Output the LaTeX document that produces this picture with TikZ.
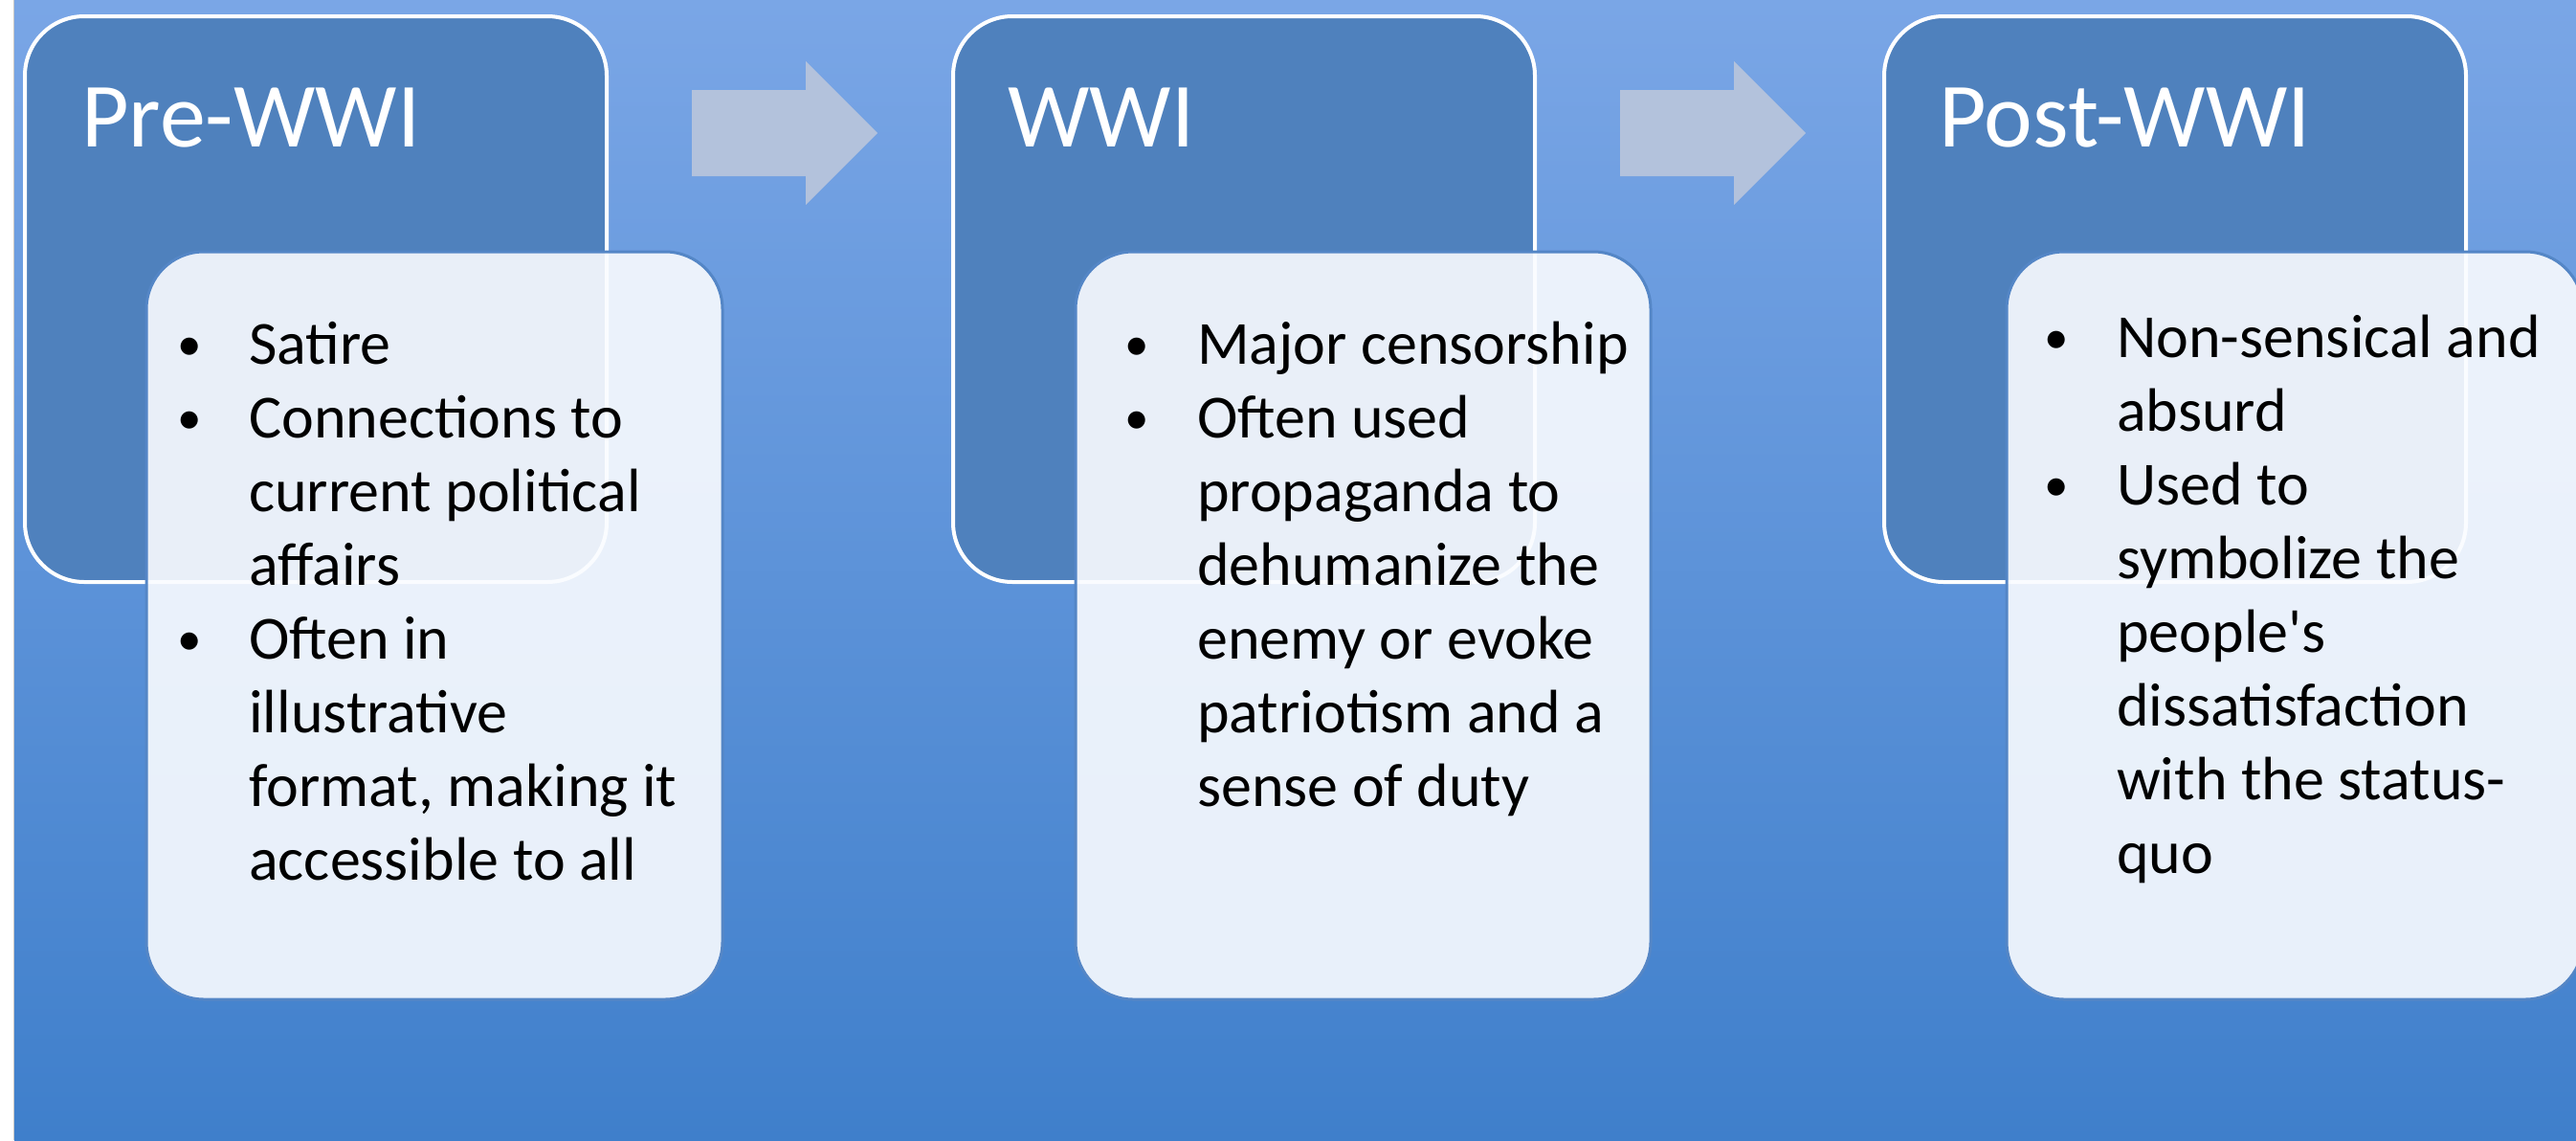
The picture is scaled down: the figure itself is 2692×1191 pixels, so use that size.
\documentclass[tikz,border=0pt]{standalone}
\usepackage{fontspec}
\newfontfamily\calib{Carlito}
\definecolor{bgtop}{RGB}{122,166,230}
\definecolor{bgbot}{RGB}{63,127,203}
\definecolor{titleblue}{RGB}{79,129,189}
\definecolor{edgeblue}{RGB}{84,134,198}
\definecolor{arrowgray}{RGB}{179,194,220}
\definecolor{stripgray}{RGB}{200,200,200}
\definecolor{paneltint}{RGB}{250,252,255}
\tikzset{
  titlebox/.style={draw=white, line width=4pt, fill=titleblue, rounded corners=62pt},
  textbox/.style={draw=edgeblue, line width=3pt, fill=paneltint, fill opacity=0.9, rounded corners=60pt},
  arrowshape/.style={fill=arrowgray, draw=none},
  titletext/.style={font=\calib\fontsize{96}{115}\selectfont, text=white, inner sep=0pt, anchor=base west},
  bodytext/.style={font=\calib\fontsize{64}{77}\selectfont, text=black, inner sep=0pt, anchor=base west},
  bullettext/.style={font=\calib\fontsize{51}{77}\selectfont, text=black, inner sep=0pt, anchor=base},
}
\begin{document}
\begin{tikzpicture}[x=1pt,y=-1pt]
\useasboundingbox (0,0) rectangle (2692,1191);
\clip (0,0) rectangle (2692,1191);
% background
\fill[white] (0,0) rectangle (15,1191);
\shade[top color=bgtop, bottom color=bgbot] (15,0) rectangle (2692,1191);
\draw[stripgray, line width=1pt] (14.5,0) -- (14.5,1191);
% title boxes
\draw[titlebox] (26,17) rectangle (634,608);
\draw[titlebox] (996,17) rectangle (1604,608);
\draw[titlebox] (1969,17) rectangle (2577,608);
% arrows
\fill[arrowshape] (723,94) -- (842,94) -- (842,64) -- (917,139) -- (842,214) -- (842,184) -- (723,184) -- cycle;
\fill[arrowshape] (1693,94) -- (1812,94) -- (1812,64) -- (1887,139) -- (1812,214) -- (1812,184) -- (1693,184) -- cycle;
% titles
\node[titletext] (t1) at (85,153) {Pre-WWI};
\node[titletext] (t2) at (1053,153) {WWI};
\node[titletext] (t3) at (2026,153) {Post-WWI};
% text boxes
\draw[textbox] (153,263) rectangle (755,1044);
\draw[textbox] (1124,263) rectangle (1725,1044);
\draw[textbox] (2097,263) rectangle (2699,1044);
% box 1 text
\node[bullettext] (b1a) at (198,376) {•};
\node[bullettext] (b1b) at (198,453) {•};
\node[bullettext] (b1c) at (198,684) {•};
\foreach \t [count=\i from 0] in {Satire, Connections to, current political, affairs, Often in, illustrative, {format, making it}, accessible to all}
  \node[bodytext] (p1-\i) at (260,380+77*\i) {\t};
% box 2 text
\node[bullettext] (b2a) at (1188,376) {•};
\node[bullettext] (b2b) at (1188,453) {•};
\foreach \t [count=\i from 0] in {Major censorship, Often used, propaganda to, dehumanize the, enemy or evoke, patriotism and a, sense of duty}
  \node[bodytext] (p2-\i) at (1251,380+77*\i) {\t};
% box 3 text
\node[bullettext] (b3a) at (2149,369) {•};
\node[bullettext] (b3b) at (2149,523) {•};
\foreach \t [count=\i from 0] in {Non-sensical and, absurd, Used to, symbolize the, people's, dissatisfaction, with the status-, quo}
  \node[bodytext] (p3-\i) at (2212,373+77*\i) {\t};
\end{tikzpicture}
\end{document}
